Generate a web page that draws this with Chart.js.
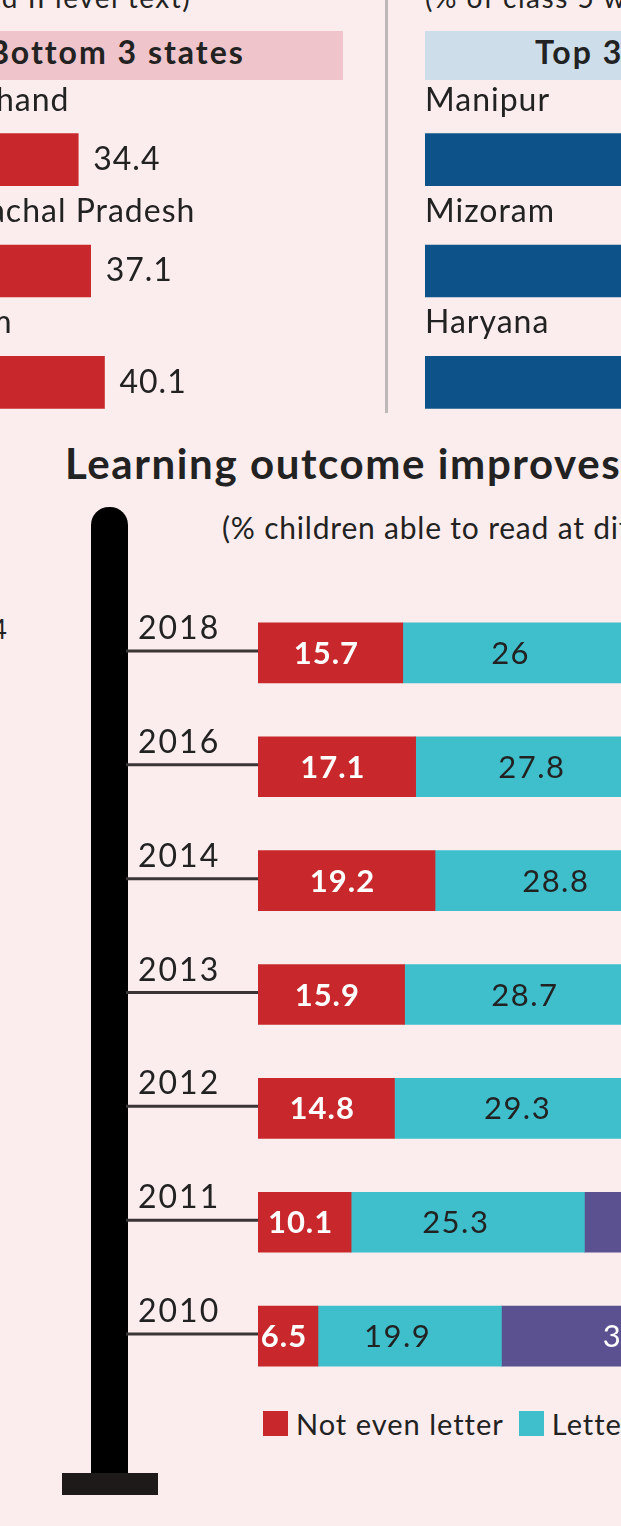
<!DOCTYPE html>
<html>
<head>
<meta charset="utf-8">
<script src="https://cdn.jsdelivr.net/npm/chart.js@4.4.1/dist/chart.umd.min.js"></script>
<style>
  body { margin: 0; width: 621px; height: 1526px; overflow: hidden; position: relative;
         background: #fbeded; font-family: Lato, sans-serif; color: #222; }
  .abs { position: absolute; white-space: nowrap; }
  canvas { position: absolute; }
  .note { font-size: 28px; top: -20px; letter-spacing: 1.5px; }
  .band { height: 49px; top: 31px; font-weight: 700; font-size: 32px; line-height: 42px; letter-spacing: 2px; }
  .legend { display: flex; align-items: center; font-size: 29px; letter-spacing: 1px; }
  .legend span.sw { display: inline-block; width: 25px; height: 25px; margin-right: 8px; }
  .legend span.item { display: inline-flex; align-items: center; margin-right: 15px; }
</style>
</head>
<body>

<div class="abs note" style="left:-393px">(% of class 5 who can read std II level text)</div>
<div class="abs note" style="left:425px">(% of class 5 who can read std II level text)</div>

<div class="abs band" style="left:-132px; width:475px; background:#efc4ca; padding-left:120px; box-sizing:border-box">Bottom 3 states</div>
<div class="abs band" style="left:425px; width:440px; background:#cddeea; padding-left:110px; box-sizing:border-box">Top 3 states</div>
<div class="abs" style="left:385px; top:0; width:3px; height:413px; background:#bdb7b7"></div>

<canvas id="bottomStates" width="600" height="368" style="left:-100px; top:70px"></canvas>
<canvas id="topStates" width="600" height="368" style="left:405px; top:70px"></canvas>

<div class="abs" style="left:65px; top:438px; font-size:42px; font-weight:700; letter-spacing:1.6px">Learning outcome improves over the years</div>
<div class="abs" style="left:222px; top:509px; font-size:30px; letter-spacing:0.8px">(% children able to read at different levels)</div>
<div class="abs" style="right:614px; top:612px; font-size:27px">24</div>

<div class="abs" style="left:91px; top:507px; width:37px; height:972px; background:#000; border-radius:18px 18px 0 0"></div>
<div class="abs" style="left:62px; top:1473px; width:96px; height:22px; background:#1f1a1a"></div>

<canvas id="readingLevels" width="1300" height="797" style="left:0; top:596px"></canvas>
<div class="abs legend" id="legend" style="left:263px; top:1406px"></div>

<script>
// state panels (values beyond the right edge of the top panel are estimates)
const bottomStates = ["Jharkhand", "Arunachal Pradesh", "Assam"];
const bottomValues = [34.4, 37.1, 40.1];
const topStates = ["Manipur", "Mizoram", "Haryana"];
const topValues = [74.9, 72.3, 69.6];

// reading levels by year
const years = ["2018", "2016", "2014", "2013", "2012", "2011", "2010"];
const notEvenLetter = [15.7, 17.1, 19.2, 15.9, 14.8, 10.1, 6.5];
const letter = [26, 27.8, 28.8, 28.7, 29.3, 25.3, 19.9];
const word = [21.6, 21.4, 21.5, 22.5, 23.6, 27.5, 31.9];

const levelNames = ["Not even letter", "Letter", "Word"];
const levelColors = ["#c8282b", "#3fbfcc", "#5b5190"];
const levelText = ["#ffffff", "#222222", "#ffffff"];

const FONT = "Lato, sans-serif";
Chart.defaults.font.family = FONT;

// state name above each bar, value just past its end
function stateLabels(nameShift) {
  return {
    id: "stateLabels",
    afterDatasetsDraw(chart) {
      const ctx = chart.ctx;
      const meta = chart.getDatasetMeta(0);
      const names = chart.data.labels;
      ctx.save();
      ctx.fillStyle = "#222";
      ctx.letterSpacing = "1px";
      meta.data.forEach((bar, i) => {
        const p = bar.getProps(["x", "y", "height"], true);
        ctx.font = "32px " + FONT;
        ctx.textBaseline = "alphabetic";
        ctx.textAlign = "left";
        ctx.fillText(names[i], chart.chartArea.left + nameShift, p.y - p.height / 2 - 23);
        ctx.textBaseline = "middle";
        ctx.fillText(chart.data.datasets[0].data[i].toFixed(1), p.x + 15, p.y);
      });
      ctx.restore();
    }
  };
}

function stateChart(id, names, values, color, nameShift) {
  return new Chart(document.getElementById(id), {
    type: "bar",
    data: {
      labels: names,
      datasets: [{ data: values, backgroundColor: color, barThickness: 52 }]
    },
    options: {
      indexAxis: "y",
      responsive: false,
      animation: false,
      layout: { padding: { left: 20, right: 120, top: 34, bottom: 0 } },
      plugins: { legend: { display: false }, tooltip: { enabled: false } },
      scales: {
        x: { display: false, min: 0, max: 100 },
        y: { display: false }
      }
    },
    plugins: [stateLabels(nameShift)]
  });
}

stateChart("bottomStates", bottomStates, bottomValues, "#c8282b", -4);
stateChart("topStates", topStates, topValues, "#0d5389", 0);

// year labels and connectors to the timeline pole
const yearMarks = {
  id: "yearMarks",
  beforeDatasetsDraw(chart) {
    const ctx = chart.ctx;
    const y = chart.scales.y;
    ctx.save();
    chart.data.labels.forEach((lab, i) => {
      const py = y.getPixelForValue(i);
      ctx.strokeStyle = "#3a3434";
      ctx.lineWidth = 3;
      ctx.beginPath();
      ctx.moveTo(126, py - 2);
      ctx.lineTo(chart.chartArea.left, py - 2);
      ctx.stroke();
      ctx.fillStyle = "#222";
      ctx.font = "32px " + FONT;
      ctx.letterSpacing = "2px";
      ctx.textAlign = "left";
      ctx.textBaseline = "alphabetic";
      ctx.fillText(lab, 138, py - 14);
    });
    ctx.restore();
  }
};

// value written inside each segment
const segmentValues = {
  id: "segmentValues",
  afterDatasetsDraw(chart) {
    const ctx = chart.ctx;
    ctx.save();
    ctx.textBaseline = "middle";
    ctx.textAlign = "center";
    chart.data.datasets.forEach((ds, d) => {
      const meta = chart.getDatasetMeta(d);
      meta.data.forEach((bar, i) => {
        const p = bar.getProps(["x", "y", "base"], true);
        const shift = d === 0 ? -4 : -12;
        ctx.font = (d === 0 ? "700 " : "400 ") + "31px " + FONT;
        ctx.letterSpacing = d === 0 ? "1px" : "1.5px";
        ctx.fillStyle = levelText[d];
        ctx.fillText(String(ds.data[i]), (p.x + p.base) / 2 + shift, p.y + 1);
      });
    });
    ctx.restore();
  }
};

const levelData = [notEvenLetter, letter, word];

new Chart(document.getElementById("readingLevels"), {
  type: "bar",
  data: {
    labels: years,
    datasets: levelData.map((vals, d) => ({
      label: levelNames[d],
      data: vals,
      backgroundColor: levelColors[d],
      barThickness: 60
    }))
  },
  options: {
    indexAxis: "y",
    responsive: false,
    animation: false,
    layout: { padding: { left: 258, right: 120, top: 0, bottom: 0 } },
    plugins: { legend: { display: false }, tooltip: { enabled: false } },
    scales: {
      x: { display: false, stacked: true, min: 0, max: 100 },
      y: { display: false, stacked: true }
    }
  },
  plugins: [yearMarks, segmentValues]
});

// legend row
const legend = document.getElementById("legend");
levelNames.forEach((name, d) => {
  const item = document.createElement("span");
  item.className = "item";
  item.innerHTML = '<span class="sw" style="background:' + levelColors[d] + '"></span>' + name;
  legend.appendChild(item);
});
</script>
</body>
</html>
